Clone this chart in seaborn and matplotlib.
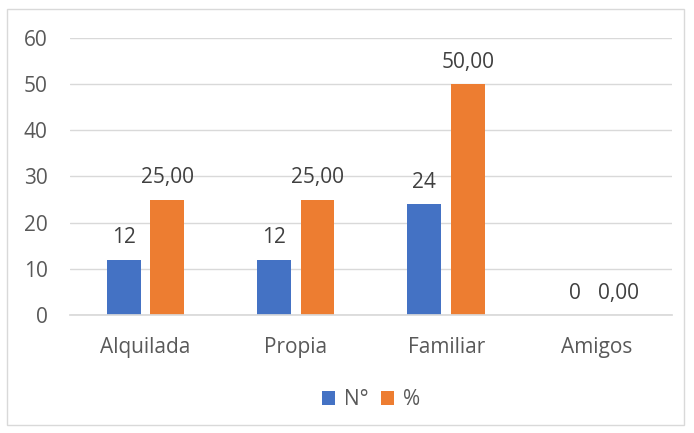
import matplotlib
matplotlib.use("Agg")
import matplotlib.pyplot as plt
import seaborn as sns
import pandas as pd
from matplotlib.patches import Rectangle

categories = ["Alquilada", "Propia", "Familiar", "Amigos"]
counts = [12, 12, 24, 0]
percents = [25.00, 25.00, 50.00, 0.00]
series_names = ["N°", "%"]
colors = ["#4472C4", "#ED7D31"]

df = pd.DataFrame({
    "cat": categories * 2,
    "val": counts + percents,
    "serie": [series_names[0]] * 4 + [series_names[1]] * 4,
})

sns.set_theme(style="white")
plt.rcParams["font.family"] = ["Open Sans", "DejaVu Sans"]
txt = "#595959"
lbl = "#404040"

fig = plt.figure(figsize=(6.94, 4.33), dpi=100)
ax = fig.add_axes([0.101, 0.2725, 0.867, 0.64])
sns.barplot(data=df, x="cat", y="val", hue="serie", palette=colors,
            width=0.578, gap=0.22, ax=ax, legend=True, saturation=1,
            linewidth=0, edgecolor="none")

ax.set_ylim(0, 60)
ax.set_yticks(range(0, 61, 10))
ax.yaxis.grid(True, color="#d9d9d9", linewidth=1)
ax.set_axisbelow(True)
for s in ["top", "right", "left"]:
    ax.spines[s].set_visible(False)
ax.spines["bottom"].set_color("#d9d9d9")
ax.set_xlabel("")
ax.set_ylabel("")
ax.tick_params(axis="both", length=0, labelsize=15, colors=txt)
ax.tick_params(axis="x", pad=16)
ax.tick_params(axis="y", pad=16)

fmt = [lambda v: f"{v:.0f}", lambda v: f"{v:.2f}".replace(".", ",")]
for i, cont in enumerate(ax.containers):
    ax.bar_label(cont, labels=[fmt[i](v) for v in cont.datavalues],
                 padding=8, fontsize=15, color=lbl)

leg = ax.legend(loc="upper center", bbox_to_anchor=(0.5, -0.2), ncol=2,
                frameon=False, fontsize=15, handlelength=0.65, handleheight=0.65,
                handletextpad=0.4, columnspacing=0.6)
for t in leg.get_texts():
    t.set_color(txt)

fig.patches.append(Rectangle((7 / 694, 1 - 425 / 433), 677 / 694, 416 / 433,
                             transform=fig.transFigure, fill=False,
                             edgecolor="#d9d9d9", linewidth=1))
fig.savefig("out.png", dpi=100)
